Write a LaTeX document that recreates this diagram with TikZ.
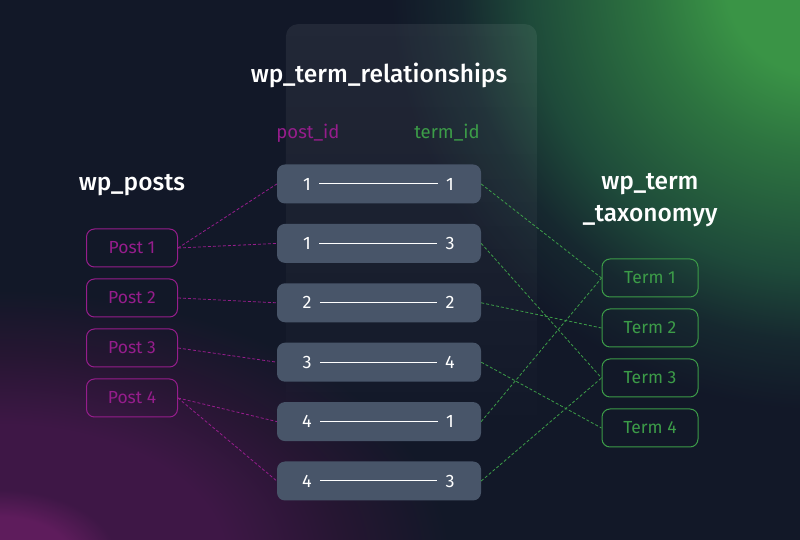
\documentclass[tikz,border=0pt]{standalone}
\usepackage{fontspec}
\setmainfont{Fira Sans}
\newfontfamily\headfont{Fira Sans Medium}
\usetikzlibrary{positioning,fadings}

\definecolor{navybg}{HTML}{121828}
\definecolor{rowgray}{HTML}{485569}
\definecolor{postpurple}{HTML}{961D8C}
\definecolor{termgreen}{HTML}{3C9C48}
\definecolor{glowgreen}{HTML}{3A9446}
\definecolor{glowmid}{HTML}{2D7440}
\definecolor{glowdark}{HTML}{1E4A3A}
\definecolor{glowfaint}{HTML}{16282F}
\definecolor{glowpink}{HTML}{5E1C5C}
\definecolor{glowpurple}{HTML}{3E1746}
\definecolor{glowplum}{HTML}{261632}

\pgfdeclareradialshading{greenglow}{\pgfpoint{0bp}{0bp}}{%
  color(0bp)=(glowgreen); color(5.5bp)=(glowgreen); color(10bp)=(glowmid);
  color(17bp)=(glowdark); color(21bp)=(glowfaint); color(25bp)=(navybg);
  color(50bp)=(navybg)}
\pgfdeclareradialshading{purpleglow}{\pgfpoint{0bp}{0bp}}{%
  color(0bp)=(glowpink); color(4bp)=(glowpink); color(6.5bp)=(glowpurple);
  color(12.5bp)=(glowpurple); color(19bp)=(glowplum); color(25bp)=(navybg);
  color(50bp)=(navybg)}
\tikzfading[name=panelfade, top color=transparent!0, bottom color=transparent!100]

\tikzset{
  heading/.style={
    text=white,
    font=\headfont\fontsize{24.5}{32}\selectfont},
  colhead/.style={
    font=\fontsize{18.5}{20}\selectfont},
  rowbox/.style={
    rectangle,
    rounded corners=8pt,
    fill=rowgray,
    minimum width=204pt,
    minimum height=39pt},
  idnum/.style={
    text=white,
    font=\fontsize{18}{20}\selectfont},
  idline/.style={draw=white, line width=1pt, shorten <=5pt, shorten >=5pt},
  postbox/.style={
    rectangle,
    rounded corners=8pt,
    draw=postpurple, line width=1pt,
    text=postpurple,
    font=\fontsize{17.5}{19}\selectfont,
    minimum width=91pt,
    minimum height=38pt},
  termbox/.style={
    rectangle,
    rounded corners=8pt,
    draw=termgreen, line width=1pt,
    text=termgreen,
    font=\fontsize{17.5}{19}\selectfont,
    minimum width=96pt,
    minimum height=38pt},
  postlink/.style={draw=postpurple, line width=0.8pt, dash pattern=on 3pt off 2pt},
  termlink/.style={draw=termgreen, line width=0.8pt, dash pattern=on 3pt off 2pt},
}

\begin{document}
\begin{tikzpicture}[x=1pt, y=1pt]
\useasboundingbox (0,0) rectangle (800,540);
\clip (0,0) rectangle (800,540);

% background and glows
\fill[navybg] (0,0) rectangle (800,540);
\shade[shading=greenglow] (820,560) circle (430);
\shade[shading=purpleglow] (0,-20) ellipse (450 and 270);
\fill[white, fill opacity=0.07, path fading=panelfade, rounded corners=12pt]
  (286,90) rectangle (537,516);

% titles
\node[heading] (reltitle) at (379,465) {wp\_term\_relationships};
\node[colhead, text=postpurple] (postid) at (308,407) {post\_id};
\node[colhead, text=termgreen] (termid) at (447,407) {term\_id};
\node[heading] (posts) at (132,355) {wp\_posts};
\node[heading, align=center] (taxonomy) at (650,340) {wp\_term\\\_taxonomyy};

% relationship rows
\node[rowbox] (row1) at (379,356) {};
\node[rowbox, below=20pt of row1] (row2) {};
\node[rowbox, below=20pt of row2] (row3) {};
\node[rowbox, below=20pt of row3] (row4) {};
\node[rowbox, below=20pt of row4] (row5) {};
\node[rowbox, below=20pt of row5] (row6) {};

\node[idnum, left of=row1, node distance=72pt] (row1p) {1};
\node[idnum, right of=row1, node distance=71pt] (row1t) {1};
\draw[idline] (row1p) -- (row1t);
\node[idnum, left of=row2, node distance=72pt] (row2p) {1};
\node[idnum, right of=row2, node distance=71pt] (row2t) {3};
\draw[idline] (row2p) -- (row2t);
\node[idnum, left of=row3, node distance=72pt] (row3p) {2};
\node[idnum, right of=row3, node distance=71pt] (row3t) {2};
\draw[idline] (row3p) -- (row3t);
\node[idnum, left of=row4, node distance=72pt] (row4p) {3};
\node[idnum, right of=row4, node distance=71pt] (row4t) {4};
\draw[idline] (row4p) -- (row4t);
\node[idnum, left of=row5, node distance=72pt] (row5p) {4};
\node[idnum, right of=row5, node distance=71pt] (row5t) {1};
\draw[idline] (row5p) -- (row5t);
\node[idnum, left of=row6, node distance=72pt] (row6p) {4};
\node[idnum, right of=row6, node distance=71pt] (row6t) {3};
\draw[idline] (row6p) -- (row6t);

% posts
\node[postbox] (post1) at (132,292) {Post 1};
\node[postbox, below=11pt of post1] (post2) {Post 2};
\node[postbox, below=11pt of post2] (post3) {Post 3};
\node[postbox, below=11pt of post3] (post4) {Post 4};

% terms
\node[termbox] (term1) at (650,262) {Term 1};
\node[termbox, below=11pt of term1] (term2) {Term 2};
\node[termbox, below=11pt of term2] (term3) {Term 3};
\node[termbox, below=11pt of term3] (term4) {Term 4};

% links
\draw[postlink] (post1.east) -- (row1.west);
\draw[postlink] (post1.east) -- (row2.west);
\draw[postlink] (post2.east) -- (row3.west);
\draw[postlink] (post3.east) -- (row4.west);
\draw[postlink] (post4.east) -- (row5.west);
\draw[postlink] (post4.east) -- (row6.west);

\draw[termlink] (row1.east) -- (term1.west);
\draw[termlink] (row2.east) -- (term3.west);
\draw[termlink] (row3.east) -- (term2.west);
\draw[termlink] (row4.east) -- (term4.west);
\draw[termlink] (row5.east) -- (term1.west);
\draw[termlink] (row6.east) -- (term3.west);

\end{tikzpicture}
\end{document}
